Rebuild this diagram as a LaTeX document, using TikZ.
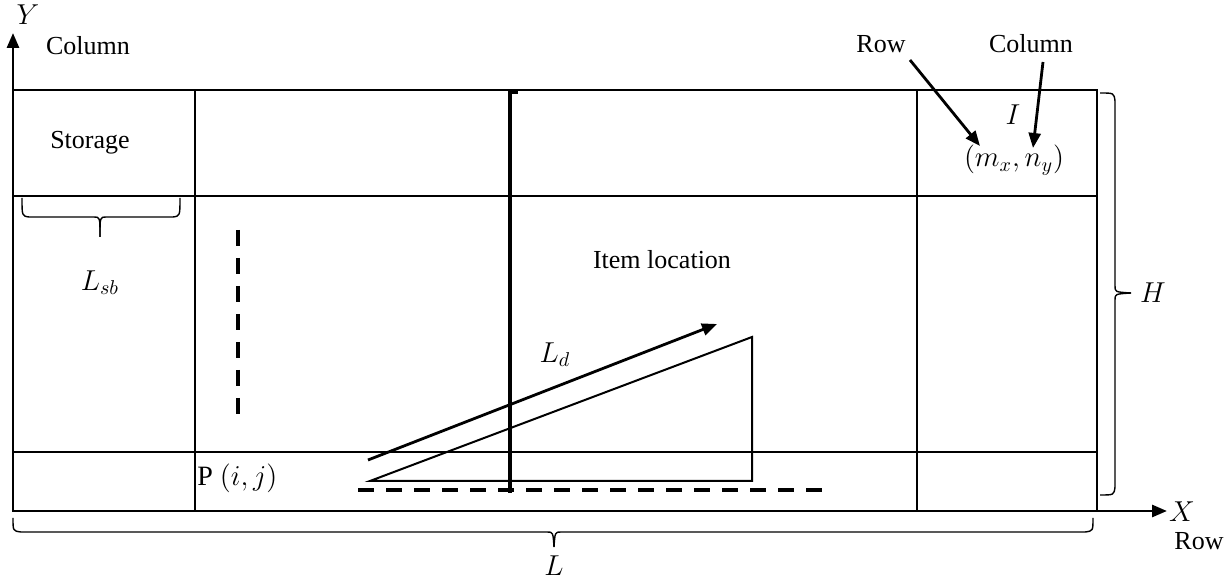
\documentclass[tikz,border=0pt]{standalone}
\usepackage{fontspec}
\setmainfont{Liberation Serif}
\usetikzlibrary{arrows.meta}
\begin{document}
\begin{tikzpicture}[x=0.5pt,y=-0.5pt,
  lbl/.style={inner sep=0pt, font=\fontsize{13}{15}\selectfont},
  mlbl/.style={inner sep=0pt, font=\fontsize{14}{16}\selectfont},
  grid/.style={line width=1.4pt},
  brace/.style={line width=0.7pt},
  arr/.style={line width=1.4pt,-{Triangle[length=7.5pt,width=6pt]}},
  dsh/.style={line width=2pt,dash pattern=on 8pt off 6pt}]
\useasboundingbox (0,0) rectangle (1232,581);
% grid
\draw[grid] (13,90) rectangle (1097,511);
\draw[grid] (13,196) -- (1097,196);
\draw[grid] (13,452) -- (1097,452);
\draw[grid] (195,90) -- (195,511);
\draw[grid] (917,90) -- (917,511);
% axes
\coordinate (o1) at (13,90);
\coordinate (ytip) at (13,33);
\coordinate (o2) at (1097,511);
\coordinate (xtip) at (1167,511);
\draw[arr] (o1) -- (ytip);
\draw[arr] (o2) -- (xtip);
% labels
\node[mlbl] (ylab) at (28,15) {$Y$};
\node[lbl] (colTL) at (88,46) {Column};
\node[lbl] (storage) at (90,143) {Storage};
\node[mlbl] (lsb) at (100,283) {$L_{sb}$};
\node[lbl] (item) at (662,260) {Item location};
\node[mlbl] (ld) at (555,355) {$L_d$};
\node[mlbl,anchor=west] (pij) at (197,478) {P $(i,j)$};
\node[mlbl] (I) at (1013,115) {$I$};
\node[mlbl] (mn) at (1014,160) {$(m_x,n_y)$};
\node[lbl] (rowT) at (881,44) {Row};
\node[lbl] (colT) at (1031,44) {Column};
\node[mlbl] (H) at (1153,293) {$H$};
\node[mlbl] (X) at (1182,512) {$X$};
\node[lbl] (rowB) at (1199,541) {Row};
\node[mlbl] (L) at (554,566) {$L$};
% row/column arrows
\coordinate (ra) at (910,60);
\coordinate (rb) at (980,146);
\coordinate (ca) at (1043,62);
\coordinate (cb) at (1033,148);
\draw[arr] (ra) -- (rb);
\draw[arr] (ca) -- (cb);
% braces
\draw[brace] (1100,93) .. controls (1114,93) .. (1115,101) -- (1115,286) .. controls (1115,292) .. (1131,293);
\draw[brace] (1100,495) .. controls (1114,495) .. (1115,487) -- (1115,300) .. controls (1115,294) .. (1131,293);
\draw[brace] (13,518) .. controls (13,531) .. (21,532) -- (547,532) .. controls (553,532) .. (554,547);
\draw[brace] (1093,518) .. controls (1093,531) .. (1085,532) -- (561,532) .. controls (555,532) .. (554,547);
\draw[brace] (22,198) .. controls (22,216) .. (29,217) -- (94,217) .. controls (100,217) .. (100,237);
\draw[brace] (180,198) .. controls (180,216) .. (173,217) -- (106,217) .. controls (100,217) .. (100,237);
% vertical thick line
\coordinate (va) at (510,493);
\coordinate (vb) at (510,92);
\coordinate (vc) at (518,92);
\draw[line width=2.2pt] (va) -- (vb) -- (vc);
% dashed lines
\coordinate (d1) at (238,230);
\coordinate (d2) at (238,414);
\draw[dsh] (d1) -- (d2);
\coordinate (d3) at (358,490);
\coordinate (d4) at (822,490);
\draw[dsh] (d3) -- (d4);
% triangle
\coordinate (t1) at (370,481);
\coordinate (t2) at (752,481);
\coordinate (t3) at (752,337);
\draw[line width=1pt] (t1) -- (t2) -- (t3) -- cycle;
% L_d arrow
\coordinate (la) at (368,460);
\coordinate (lb) at (717,324);
\draw[arr] (la) -- (lb);
\end{tikzpicture}
\end{document}
